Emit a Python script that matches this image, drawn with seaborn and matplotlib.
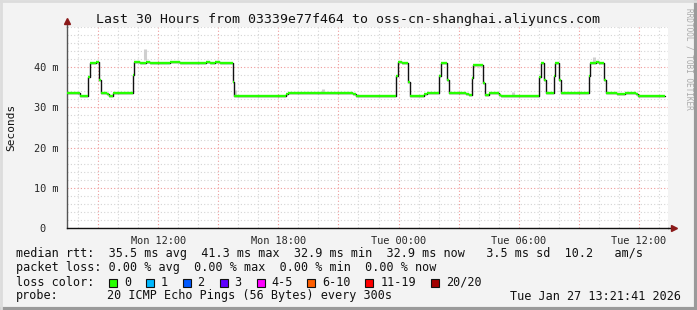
import matplotlib
matplotlib.use("Agg")
import matplotlib.pyplot as plt
from matplotlib.patches import Rectangle
from matplotlib.lines import Line2D
import seaborn as sns
import pandas as pd

# ---------------- data (hours since Mon 00:00, median rtt in ms) ----------------
change_hours = [7.45, 8.10, 8.50, 8.60, 8.90, 9.05, 9.125, 9.45, 9.55, 9.75,
                10.735, 10.785, 11.10, 11.40, 11.60, 12.00, 12.60, 13.10, 14.35, 14.40,
                14.60, 14.85, 15.10, 15.715, 15.80, 18.385, 18.50, 21.75, 21.90, 23.885,
                23.95, 24.15, 24.465, 24.55, 25.265, 25.40, 26.035, 26.10, 26.40, 26.50,
                27.35, 27.50, 27.65, 27.725, 28.235, 28.30, 28.50, 29.015, 29.10, 31.015,
                31.10, 31.25, 31.35, 31.735, 31.80, 32.015, 32.10, 33.485, 33.55, 33.85,
                34.00, 34.265, 34.35, 34.885, 35.30, 35.85, 35.95]
rtt_ms = [33.7, 32.8, 37.6, 41.1, 41.3, 36.8, 33.7, 33.3, 32.8, 33.7,
          38.1, 41.3, 41.1, 41.3, 41.1, 41.0, 41.3, 41.1, 41.1, 41.3,
          41.1, 41.3, 41.1, 36.4, 32.8, 33.3, 33.7, 33.3, 32.8, 37.8,
          41.3, 41.1, 36.4, 32.8, 33.3, 33.7, 37.8, 41.1, 36.8, 33.7,
          33.3, 33.1, 37.2, 40.6, 36.1, 33.1, 33.7, 33.1, 32.8, 37.6,
          41.1, 36.8, 33.7, 37.8, 41.1, 36.8, 33.7, 37.8, 41.1, 41.3,
          41.1, 36.8, 33.7, 33.3, 33.7, 33.3, 32.8]
end_hour = 37.315

# a few visible "smoke" spikes (hour, low ms, high ms)
smoke_hours = [11.35, 15.85, 20.25, 29.70, 33.75]
smoke_low = [41.8, 32.8, 33.7, 32.8, 41.3]
smoke_high = [44.6, 34.3, 34.6, 33.9, 42.6]

x_tick_hours = [12, 18, 24, 30, 36]
x_tick_labels = ["Mon 12:00", "Mon 18:00", "Tue 00:00", "Tue 06:00", "Tue 12:00"]
y_ticks = [0, 10, 20, 30, 40]
y_tick_labels = ["0  ", "10 m", "20 m", "30 m", "40 m"]

title = "Last 30 Hours from 03339e77f464 to oss-cn-shanghai.aliyuncs.com"
stats_lines = [
    "median rtt:  35.5 ms avg  41.3 ms max  32.9 ms min  32.9 ms now   3.5 ms sd  10.2   am/s",
    "packet loss: 0.00 % avg  0.00 % max  0.00 % min  0.00 % now",
]
loss_labels = ["0", "1", "2", "3", "4-5", "6-10", "11-19", "20/20"]
loss_colors = ["#26ff00", "#00b8ff", "#0059ff", "#5e00ff", "#ff00ff", "#ff5e00", "#ff0000", "#a10000"]
probe_text = "20 ICMP Echo Pings (56 Bytes) every 300s"
date_text = "Tue Jan 27 13:21:41 2026"

# ---------------- figure ----------------
sns.set_style("white")
plt.rcParams["font.family"] = ["DejaVu Sans Mono"]

W, H = 697, 310
fig = plt.figure(figsize=(W / 100, H / 100), dpi=100, facecolor="#f3f3f3")
ax = fig.add_axes([67 / W, 1 - 228 / H, 601 / W, 201 / H])
ax.set_facecolor("white")

ax.set_xlim(7.45, 37.45)
ax.set_ylim(0, 50)

# grid
ax.set_xticks([h for h in range(9, 38, 3)])
ax.set_xticks([h for h in range(8, 38)], minor=True)
ax.set_yticks(y_ticks)
ax.set_yticks(list(range(0, 51, 2)), minor=True)
ax.grid(which="minor", color="#d4d4d4", linestyle=(0, (1, 2)), linewidth=0.8)
ax.grid(which="major", color="#f09a9a", linestyle=(0, (1, 2)), linewidth=0.8)
ax.set_axisbelow(True)

xt_labels = []
for h in range(9, 38, 3):
    xt_labels.append(x_tick_labels[x_tick_hours.index(h)] if h in x_tick_hours else "")
ax.set_xticklabels(xt_labels, fontsize=7.4)
ax.set_yticklabels(y_tick_labels, fontsize=7.4)
ax.tick_params(axis="x", which="major", length=3, color="#f09a9a", pad=3)
ax.tick_params(axis="x", which="minor", length=2, color="#cccccc")
ax.tick_params(axis="y", which="major", length=3, color="#444444", pad=3)
ax.tick_params(axis="y", which="minor", length=0)

for s in ["top", "right"]:
    ax.spines[s].set_visible(False)
ax.spines["left"].set_color("#555555")
ax.spines["bottom"].set_color("#111111")
ax.spines["left"].set_linewidth(1.0)
ax.spines["bottom"].set_linewidth(1.0)

# extended axes with arrows
ax.add_line(Line2D([0, 0], [1, 1.02], transform=ax.transAxes, color="#555555", lw=1, clip_on=False))
ax.add_line(Line2D([1, 1.008], [0, 0], transform=ax.transAxes, color="#111111", lw=1, clip_on=False))
ax.plot([0], [1.03], marker="^", color="#8b1a1a", markersize=5, transform=ax.transAxes, clip_on=False)
ax.plot([1.01], [0], marker=">", color="#8b1a1a", markersize=5, transform=ax.transAxes, clip_on=False)

# smoke
ax.vlines(smoke_hours, smoke_low, smoke_high, color="#cfcfcf", linewidth=2.2, zorder=2)

# median line: black steps + green levels
df = pd.DataFrame({"hour": change_hours + [end_hour], "rtt": rtt_ms + [rtt_ms[-1]]})
sns.lineplot(data=df, x="hour", y="rtt", ax=ax, color="#111111", linewidth=1.0,
             drawstyle="steps-post", zorder=3, estimator=None)
ax.hlines(rtt_ms, change_hours, change_hours[1:] + [end_hour], color="#26ff00",
          linewidth=1.7, zorder=4)
ax.set_xlabel("")
ax.set_ylabel("")

# texts
fig.text(348 / W, 1 - 19 / H, title, ha="center", va="center", fontsize=9.5, color="#111111")
fig.text(11 / W, 1 - 127 / H, "Seconds", rotation=90, ha="center", va="center", fontsize=8, color="#111111")
fig.text(689 / W, 1 - 8 / H, "RRDTOOL / TOBI OETIKER", rotation=270, ha="center", va="top",
         fontsize=5.6, color="#aaaaaa")

fs = 8.5
fig.text(16 / W, 1 - 254 / H, stats_lines[0], ha="left", va="center", fontsize=fs, color="#111111")
fig.text(16 / W, 1 - 268 / H, stats_lines[1], ha="left", va="center", fontsize=fs, color="#111111")
fig.text(16 / W, 1 - 282 / H, "loss color:", ha="left", va="center", fontsize=fs, color="#111111")
sq_x = [108.7, 145.7, 182.7, 219.7, 256.7, 307.0, 365.0, 430.7]
lab_x = [124, 161, 197, 234, 271, 322, 380.7, 445.7]
for sx, lx, lab, col in zip(sq_x, lab_x, loss_labels, loss_colors):
    fig.add_artist(Rectangle((sx / W, 1 - 286.5 / H), 8 / W, 8 / H, transform=fig.transFigure,
                             facecolor=col, edgecolor="#111111", linewidth=0.8))
    fig.text(lx / W, 1 - 282 / H, lab, ha="left", va="center", fontsize=fs, color="#111111")
fig.text(16 / W, 1 - 296 / H, "probe:", ha="left", va="center", fontsize=fs, color="#111111")
fig.text(107 / W, 1 - 296 / H, probe_text, ha="left", va="center", fontsize=fs, color="#111111")
fig.text(681 / W, 1 - 296 / H, date_text, ha="right", va="center", fontsize=fs, color="#111111")

# frame
fig.add_artist(Line2D([0, 1], [1.5 / H, 1.5 / H], transform=fig.transFigure, color="#9a9a9a", lw=3))
fig.add_artist(Line2D([1 - 1.5 / W, 1 - 1.5 / W], [0, 1], transform=fig.transFigure, color="#9a9a9a", lw=3))
fig.add_artist(Line2D([0, 1], [1 - 1 / H, 1 - 1 / H], transform=fig.transFigure, color="#dcdcdc", lw=2))
fig.add_artist(Line2D([1 / W, 1 / W], [0, 1], transform=fig.transFigure, color="#dcdcdc", lw=2))

fig.savefig("out.png", dpi=100, facecolor=fig.get_facecolor())
